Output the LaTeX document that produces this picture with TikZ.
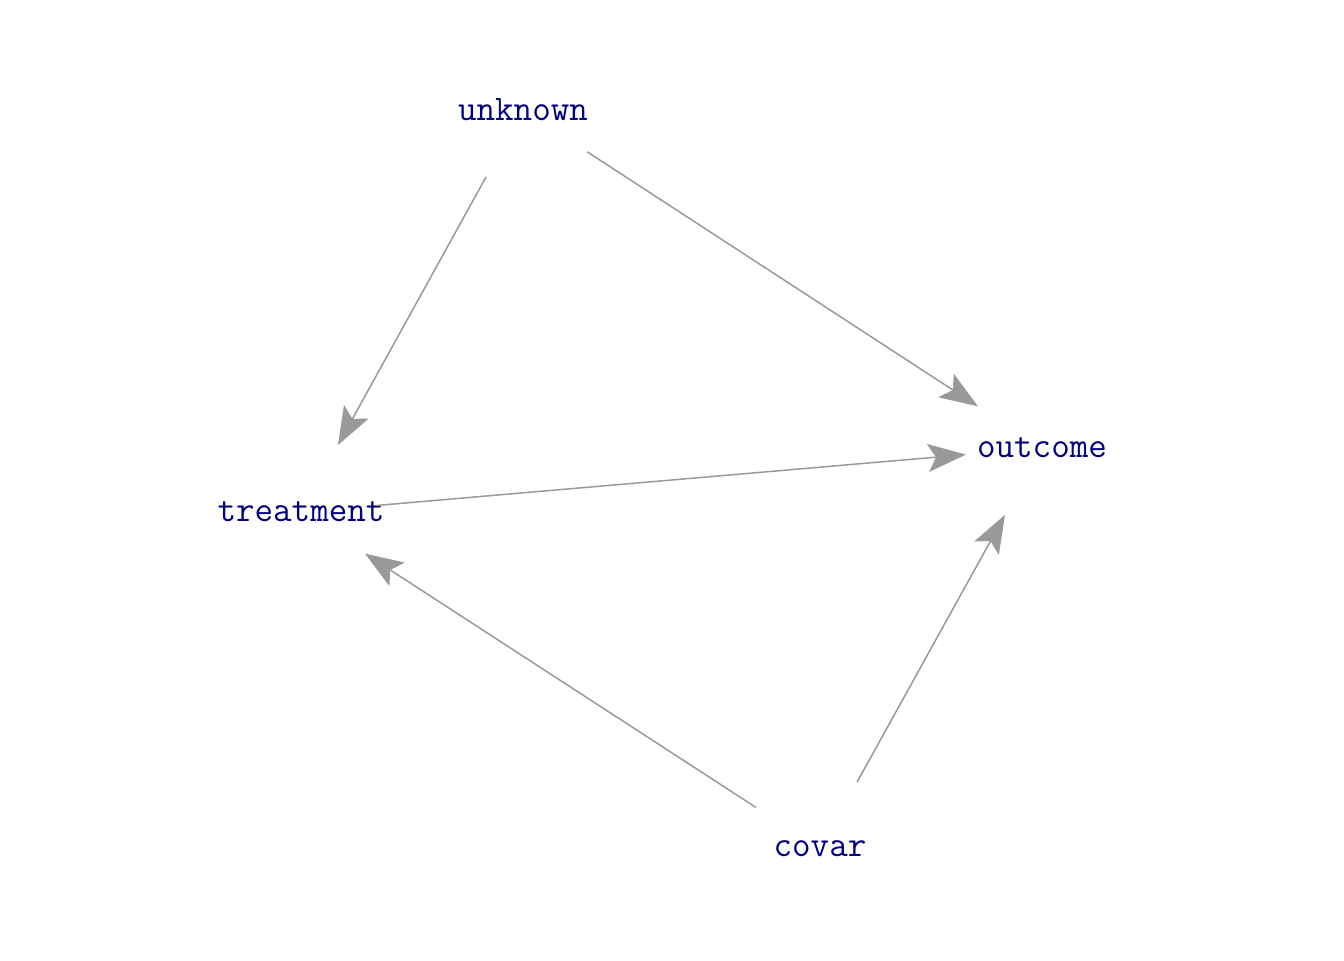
\documentclass[tikz,border=0pt]{standalone}
\usepackage{fontspec}
\usetikzlibrary{arrows.meta}
\definecolor{navytext}{HTML}{000080}
\definecolor{edgegray}{HTML}{999999}
\tikzset{
  hub/.style={circle, minimum size=76pt, inner sep=0pt, draw=none},
  lbl/.style={text=navytext, font=\ttfamily\fontsize{18}{20}\selectfont, inner sep=0pt},
  edge/.style={draw=edgegray, line width=0.75pt, -{Stealth[length=19pt,width=14pt,inset=4pt]}}
}
\begin{document}
\begin{tikzpicture}[x=0.5pt,y=-0.5pt]
\useasboundingbox (0,0) rectangle (1344,960);
\node[hub] (u) at (523,110) {};
\node[hub] (t) at (301,512) {};
\node[hub] (o) at (1042,448) {};
\node[hub] (c) at (820,849) {};
\node[lbl] (ul) at (u) {unknown};
\node[lbl] (tl) at (t) {treatment};
\node[lbl] (ol) at (o) {outcome};
\node[lbl] (cl) at (c) {covar};
\draw[edge] (u) -- (t);
\draw[edge] (u) -- (o);
\draw[edge] (t) -- (o);
\draw[edge] (c) -- (t);
\draw[edge] (c) -- (o);
\end{tikzpicture}
\end{document}
